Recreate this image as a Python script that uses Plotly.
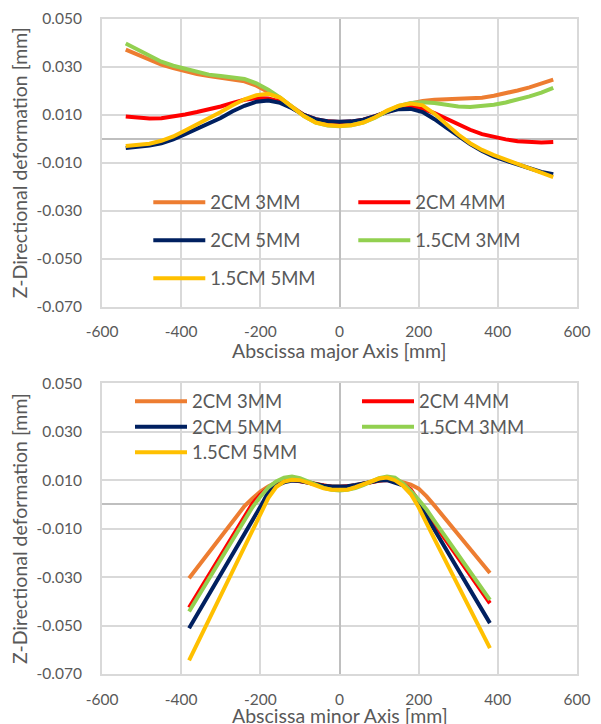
import plotly.graph_objects as go

# ---------------- data ----------------
series_names = ["2CM 3MM", "2CM 4MM", "2CM 5MM", "1.5CM 3MM", "1.5CM 5MM"]
series_colors = ["#ED7D31", "#FF0000", "#002060", "#92D050", "#FFC000"]

x_major = [-540, -510, -480, -450, -420, -390, -360, -330, -300, -270, -240, -210,
           -180, -150, -120, -90, -60, -30, 0, 30, 60, 90, 120, 150, 180, 210, 240,
           270, 300, 330, 360, 390, 420, 450, 480, 510, 540]

major_2cm_3mm = [0.0372, 0.0350, 0.0328, 0.0310, 0.0295, 0.0282, 0.0270, 0.0262, 0.0256,
                 0.0250, 0.0240, 0.0222, 0.0198, 0.0170, 0.0135, 0.0100, 0.0078, 0.0068,
                 0.0063, 0.0066, 0.0075, 0.0092, 0.0115, 0.0135, 0.0148, 0.0158, 0.0163,
                 0.0166, 0.0168, 0.0170, 0.0172, 0.0180, 0.0190, 0.0202, 0.0215, 0.0230,
                 0.0247]
major_2cm_4mm = [0.0093, 0.0088, 0.0085, 0.0086, 0.0092, 0.0102, 0.0112, 0.0122, 0.0135,
                 0.0150, 0.0163, 0.0170, 0.0168, 0.0155, 0.0130, 0.0100, 0.0082, 0.0073,
                 0.0070, 0.0072, 0.0080, 0.0095, 0.0113, 0.0128, 0.0135, 0.0125, 0.0107,
                 0.0083, 0.0060, 0.0038, 0.0020, 0.0008, -0.0002, -0.0010, -0.0014,
                 -0.0015, -0.0013]
major_2cm_5mm = [-0.0038, -0.0035, -0.0028, -0.0018, -0.0002, 0.0020, 0.0043, 0.0065,
                 0.0087, 0.0115, 0.0138, 0.0155, 0.0160, 0.0150, 0.0128, 0.0100, 0.0082,
                 0.0074, 0.0071, 0.0073, 0.0080, 0.0095, 0.0112, 0.0124, 0.0125, 0.0112,
                 0.0082, 0.0047, 0.0012, -0.0022, -0.0050, -0.0074, -0.0091, -0.0108,
                 -0.0124, -0.0138, -0.0147]
major_15cm_3mm = [0.0398, 0.0372, 0.0345, 0.0322, 0.0305, 0.0292, 0.0278, 0.0268, 0.0262,
                  0.0258, 0.0250, 0.0232, 0.0205, 0.0172, 0.0135, 0.0095, 0.0068, 0.0056,
                  0.0053, 0.0057, 0.0068, 0.0088, 0.0115, 0.0138, 0.0150, 0.0153, 0.0150,
                  0.0142, 0.0135, 0.0133, 0.0136, 0.0142, 0.0152, 0.0163, 0.0177, 0.0193,
                  0.0213]
major_15cm_5mm = [-0.0030, -0.0027, -0.0020, -0.0008, 0.0010, 0.0035, 0.0060, 0.0085,
                  0.0112, 0.0140, 0.0165, 0.0182, 0.0188, 0.0172, 0.0135, 0.0095, 0.0068,
                  0.0057, 0.0054, 0.0057, 0.0068, 0.0090, 0.0118, 0.0138, 0.0147, 0.0140,
                  0.0105, 0.0060, 0.0018, -0.0018, -0.0046, -0.0068, -0.0086, -0.0106,
                  -0.0126, -0.0143, -0.0160]

x_minor = [-380, -240, -220, -200, -180, -160, -140, -120, -100, -80, -60, -40, -20, 0,
           20, 40, 60, 80, 100, 120, 140, 160, 180, 200, 220, 240, 380]

minor_2cm_3mm = [-0.0305, -0.0007, 0.0025, 0.0053, 0.0074, 0.0090, 0.0100, 0.0104, 0.0100,
                 0.0092, 0.0084, 0.0078, 0.0074, 0.0072, 0.0074, 0.0079, 0.0086, 0.0094,
                 0.0101, 0.0104, 0.0101, 0.0092, 0.0082, 0.0065, 0.0033, -0.0005, -0.0283]
minor_2cm_4mm = [-0.0426, -0.0052, 0.0003, 0.0040, 0.0068, 0.0088, 0.0098, 0.0101, 0.0097,
                 0.0090, 0.0083, 0.0077, 0.0073, 0.0072, 0.0074, 0.0078, 0.0085, 0.0093,
                 0.0099, 0.0101, 0.0096, 0.0084, 0.0062, 0.0014, -0.0032, -0.0080, -0.0408]
minor_2cm_5mm = [-0.0511, -0.0126, -0.0071, -0.0010, 0.0050, 0.0077, 0.0091, 0.0099, 0.0097,
                 0.0090, 0.0083, 0.0077, 0.0074, 0.0073, 0.0075, 0.0080, 0.0086, 0.0093,
                 0.0099, 0.0100, 0.0090, 0.0079, 0.0046, 0.0005, -0.0050, -0.0106, -0.0490]
minor_15cm_3mm = [-0.0442, -0.0064, -0.0012, 0.0032, 0.0070, 0.0095, 0.0110, 0.0115, 0.0108,
                  0.0095, 0.0080, 0.0068, 0.0061, 0.0058, 0.0061, 0.0068, 0.0080, 0.0096,
                  0.0108, 0.0115, 0.0110, 0.0087, 0.0056, 0.0019, -0.0021, -0.0069, -0.0394]
minor_15cm_5mm = [-0.0644, -0.0172, -0.0105, -0.0037, 0.0026, 0.0072, 0.0094, 0.0102, 0.0100,
                  0.0090, 0.0077, 0.0067, 0.0061, 0.0059, 0.0061, 0.0071, 0.0083, 0.0098,
                  0.0107, 0.0111, 0.0100, 0.0078, 0.0043, -0.0012, -0.0078, -0.0143, -0.0593]

y_tickvals = [-0.07, -0.05, -0.03, -0.01, 0.01, 0.03, 0.05]
y_ticktext = ["-0.070", "-0.050", "-0.030", "-0.010", "0.010", "0.030", "0.050"]
x_tickvals = [-600, -400, -200, 0, 200, 400, 600]
x_ticktext = ["-600", "-400", "-200", "0", "200", "400", "600"]

x_titles = ["Abscissa major Axis [mm]", "Abscissa minor Axis [mm]"]
y_title = "Z-Directional deformation [mm]"

major_values = [major_2cm_3mm, major_2cm_4mm, major_2cm_5mm, major_15cm_3mm, major_15cm_5mm]
minor_values = [minor_2cm_3mm, minor_2cm_4mm, minor_2cm_5mm, minor_15cm_3mm, minor_15cm_5mm]

# ---------------- figure ----------------
FONT = "Lato"
TXT = "#595959"
GRID = "#D9D9D9"
ZERO = "#BFBFBF"

top_legends = ["legend", "legend", "legend2", "legend2", "legend3"]
bot_legends = ["legend4", "legend4", "legend5", "legend5", "legend6"]

fig = go.Figure()
for name, color, vals, lg in zip(series_names, series_colors, major_values, top_legends):
    fig.add_trace(go.Scatter(x=x_major, y=vals, mode="lines", name=name,
                             line=dict(color=color, width=4), xaxis="x", yaxis="y",
                             legend=lg))
for name, color, vals, lg in zip(series_names, series_colors, minor_values, bot_legends):
    fig.add_trace(go.Scatter(x=x_minor, y=vals, mode="lines", name=name,
                             line=dict(color=color, width=4), xaxis="x2", yaxis="y2",
                             legend=lg))


def xax(anchor):
    return dict(range=[-600, 600], tickvals=x_tickvals, ticktext=x_ticktext,
                showgrid=True, gridcolor=GRID, gridwidth=2,
                zeroline=True, zerolinecolor=ZERO, zerolinewidth=2,
                showline=True, linecolor=GRID, linewidth=2, mirror=True,
                ticks="", ticklabelstandoff=10, automargin=False,
                tickfont=dict(family=FONT, size=15.5, color=TXT),
                anchor=anchor, domain=[0, 1], fixedrange=True)


def yax(domain, anchor):
    return dict(range=[-0.07, 0.05], tickvals=y_tickvals, ticktext=y_ticktext,
                showgrid=True, gridcolor=GRID, gridwidth=2,
                zeroline=True, zerolinecolor=ZERO, zerolinewidth=2,
                showline=True, linecolor=GRID, linewidth=2, mirror=True,
                ticks="", ticklabelstandoff=15, automargin=False,
                tickfont=dict(family=FONT, size=15.5, color=TXT),
                title=dict(text=y_title,
                           font=dict(family=FONT, size=19.5, color=TXT), standoff=4),
                anchor=anchor, domain=domain, fixedrange=True)


def leg(x, y, entrywidth):
    return dict(x=x, y=y, xanchor="left", yanchor="middle", orientation="h",
                bgcolor="rgba(0,0,0,0)", borderwidth=0, itemwidth=52,
                entrywidth=entrywidth, entrywidthmode="pixels",
                font=dict(family=FONT, size=18.5, color=TXT), itemclick=False,
                itemdoubleclick=False)


H_PLOT = 655.0
def py(p):
    return (674.0 - p) / H_PLOT

annotations = [
    dict(text=x_titles[0], xref="paper", yref="paper", x=0.5, y=py(350),
         xanchor="center", yanchor="middle", showarrow=False,
         font=dict(family=FONT, size=19.5, color=TXT)),
    dict(text=x_titles[1], xref="paper", yref="paper", x=0.5, y=py(715),
         xanchor="center", yanchor="middle", showarrow=False,
         font=dict(family=FONT, size=19.5, color=TXT)),
]

fig.update_layout(
    width=601, height=724,
    margin=dict(l=102, r=24, t=19, b=50, autoexpand=False),
    paper_bgcolor="white", plot_bgcolor="white",
    font=dict(family=FONT, color=TXT),
    xaxis=xax("y"),
    yaxis=yax([py(306.7), 1.0], "x"),
    xaxis2=xax("y2"),
    yaxis2=yax([0.0, py(383.3)], "x2"),
    legend=leg((148.3 - 102) / 475, py(202.7), 138),
    legend2=leg((148.3 - 102) / 475, py(240.7), 138),
    legend3=leg((148.3 - 102) / 475, py(278.7), 138),
    legend4=leg((130 - 102) / 475, py(401.7), 160),
    legend5=leg((130 - 102) / 475, py(427.3), 160),
    legend6=leg((130 - 102) / 475, py(452.7), 160),
    annotations=annotations,
    hovermode=False,
)

fig.write_html("out.html", config={"displayModeBar": False})
